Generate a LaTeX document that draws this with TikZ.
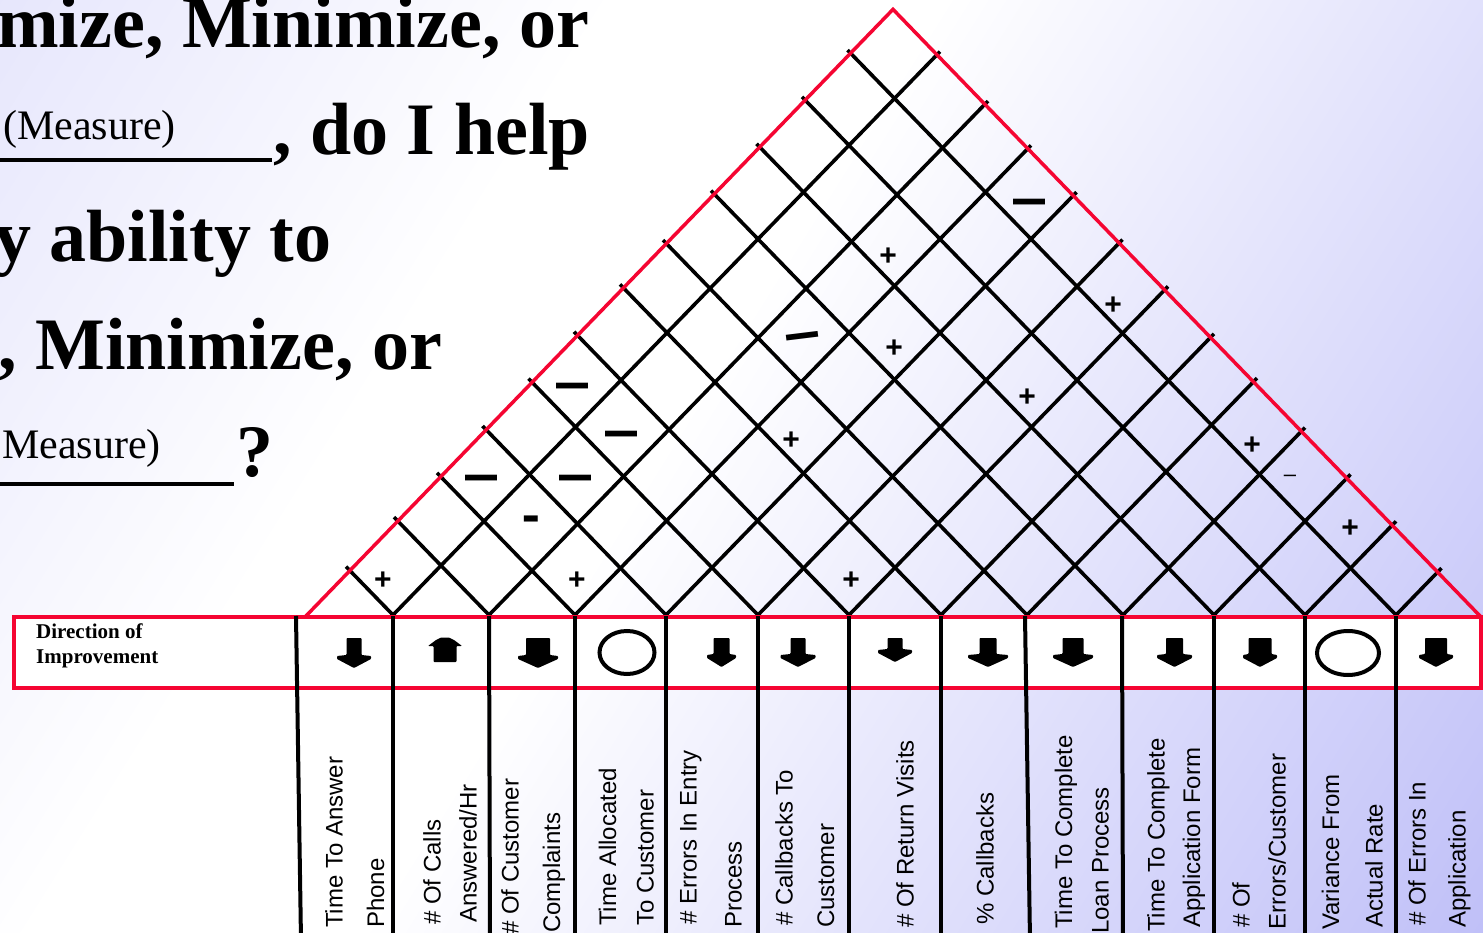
\documentclass[tikz,border=0pt]{standalone}
\usepackage{fontspec}
\setmainfont{Liberation Serif}
\newfontfamily\labfont{Liberation Sans}
\definecolor{qred}{RGB}{245,5,50}
\definecolor{bgA}{RGB}{212,212,250}
\definecolor{bgB}{RGB}{166,166,245}
\pgfdeclarehorizontalshading{bgsh}{100bp}{color(0bp)=(bgA); color(36bp)=(white); color(47bp)=(white); color(100bp)=(bgB)}
\newcommand\qdn[4]{\fill[rounded corners=0.8pt] ({#1-#2},638) -- ({#1+#2},638) -- ({#1+#2},{#4-13}) -- ({#1+#3},{#4-12}) -- ({#1+#3},{#4-9}) -- (#1,#4) -- ({#1-#3},{#4-9}) -- ({#1-#3},{#4-12}) -- ({#1-#2},{#4-13}) -- cycle;}
\begin{document}
\begin{tikzpicture}[x=1pt,y=-1pt,
  big/.style={font=\fontsize{74}{80}\selectfont\bfseries, inner sep=0pt, anchor=base west},
  meas/.style={font=\fontsize{42}{46}\selectfont, inner sep=0pt, anchor=base west},
  gridline/.style={line width=3.6pt, black},
  redline/.style={line width=3.5pt, qred},
  vline/.style={line width=4pt, black},
  lab/.style={font=\labfont\fontsize{24}{28}\selectfont, rotate=90, anchor=base west, inner sep=0pt},
  pm/.style={font=\labfont\bfseries\fontsize{30}{30}\selectfont, inner sep=0pt},
  dashmark/.style={font=\labfont\bfseries\fontsize{32}{32}\selectfont, inner sep=0pt},
  dir/.style={font=\fontsize{21}{25}\selectfont\bfseries, inner sep=0pt, anchor=base west}
]
\useasboundingbox (0,0) rectangle (1483,933);
\clip (0,0) rectangle (1483,933);
\shade[shading=bgsh, shading angle=-32] (0,0) rectangle (1483,933);

% heading
\node[big] (h1) at (-3,48) {mize, Minimize, or};
\node[meas] (m1) at (3,140) {(Measure)};
\coordinate (u1a) at (0,160);
\coordinate (u1b) at (272,160);
\draw[line width=4pt] (u1a) -- (u1b);
\node[big] (h2) at (273,155) {, do I help};
\node[big] (h3) at (-6,262) {y ability to};
\node[big] (h4) at (-2,369) {, Minimize, or};
\node[meas] (m2) at (2,458) {Measure)};
\coordinate (u2a) at (0,484);
\coordinate (u2b) at (234,484);
\draw[line width=4pt] (u2a) -- (u2b);
\node[big] (h5) at (236,476) {?};

% roof grid
\def\bl{305}\def\br{1481}\def\sl{1.03}\def\yb{615}
\foreach \b in {393,489,575,666,758,849,941,1027,1123,1214,1305,1396}{
  \draw[gridline] (\b,\yb) -- ({(\b+\br)/2+3},{\yb-\sl*(\br-\b)/2-3*\sl});
  \draw[gridline] (\b,\yb) -- ({(\bl+\b)/2-3},{\yb-\sl*(\b-\bl)/2-3*\sl});
}
\coordinate (tl) at (\bl,617);
\coordinate (tt) at ({(\bl+\br)/2},{\yb-\sl*(\br-\bl)/2});
\coordinate (tr) at (\br,617);
\draw[redline, line join=miter] (tl) -- (tt) -- (tr);

% direction row
\draw[qred, line width=4pt, fill=white] (14,617) rectangle (1481,688);
\node[dir] (d1) at (36,638) {Direction of};
\node[dir] (d2) at (36,663) {Improvement};

\foreach \t/\u in {296/301,393/393,489/490,575/575,666/666,758/758,849/849,941/941,1025/1030,1122/1123,1214/1214,1305/1305,1396/1396}
  \draw[vline] (\t,616) -- (\u,940);

% direction symbols
\qdn{354}{7.5}{17}{668}
\fill[rounded corners=0.8pt] (428,646) -- (436,640) -- (441,637.5) -- (449,637.5) -- (454,640) -- (462,646) -- (456.5,646) -- (456.5,662) -- (433.5,662) -- (433.5,646) -- cycle;
\qdn{538}{12}{20}{668}
\draw[line width=4pt] (627,652.5) ellipse [x radius=27.5, y radius=21.5];
\qdn{721.5}{8}{14.5}{667}
\qdn{798}{7.5}{17.5}{667}
\qdn{895}{7.5}{17}{662}
\qdn{988}{8.5}{20}{667}
\qdn{1073}{10.5}{20}{667}
\qdn{1174.5}{8.5}{17.5}{667}
\qdn{1260}{11.5}{17}{667}
\draw[line width=4pt] (1348,653) ellipse [x radius=31, y radius=22];
\qdn{1436}{11}{17}{667}

% column labels
\node[lab] (a1) at (342.5,928) {Time To Answer};
\node[lab] (b1) at (384,928) {Phone};
\node[lab] (a2) at (440.5,925) {\# Of Calls};
\node[lab] (b2) at (476.5,923) {Answered/Hr};
\node[lab] (a3) at (518.5,935) {\# Of Customer};
\node[lab] (b3) at (560,933) {Complaints};
\node[lab] (a4) at (616,926) {Time Allocated};
\node[lab] (b4) at (653.5,926) {To Customer};
\node[lab] (a5) at (696.5,925) {\# Errors In Entry};
\node[lab] (b5) at (741.5,928) {Process};
\node[lab] (a6) at (792.5,926) {\# Callbacks To};
\node[lab] (b6) at (834,928) {Customer};
\node[lab] (a7) at (913.5,928) {\# Of Return Visits};
\node[lab] (a8) at (993.5,925) {\% Callbacks};
\node[lab] (a9) at (1072,929) {Time To Complete};
\node[lab] (b9) at (1108.5,934) {Loan Process};
\node[lab] (a10) at (1164.5,932) {Time To Complete};
\node[lab] (b10) at (1200,928) {Application Form};
\node[lab] (a11) at (1249.5,928) {\# Of};
\node[lab] (b11) at (1285.5,930) {Errors/Customer};
\node[lab] (a12) at (1339,930) {Variance From};
\node[lab] (b12) at (1382.5,928) {Actual Rate};
\node[lab] (a13) at (1425.5,926) {\# Of Errors In};
\node[lab] (b13) at (1465.5,928) {Application};

% roof marks
\foreach \x/\y in {383/581,577/581,851/581,888/257,894/349,791/441,1113/306,1027/398,1252/446,1350/529}
  \node[pm] (p\x) at (\x,\y) {+};
\node[dashmark] (n1) at (481,484) {\scalebox{1}[1.8]{—}};
\node[dashmark] (n2) at (575,484) {\scalebox{1}[1.8]{—}};
\node[dashmark] (n3) at (572,392) {\scalebox{1}[1.8]{—}};
\node[dashmark] (n4) at (621,440) {\scalebox{1}[1.8]{—}};
\node[dashmark] (n5) at (1029,208) {\scalebox{1}[1.8]{—}};
\node[dashmark, rotate=7] (n6) at (803,342) {\scalebox{1}[1.8]{—}};
\node[font=\labfont\bfseries\fontsize{28}{28}\selectfont, inner sep=0pt] (n7) at (531,526) {\scalebox{1}[2.2]{–}};
\node[font=\labfont\fontsize{22}{22}\selectfont, inner sep=0pt] (n8) at (1290,478) {–};
\end{tikzpicture}
\end{document}
